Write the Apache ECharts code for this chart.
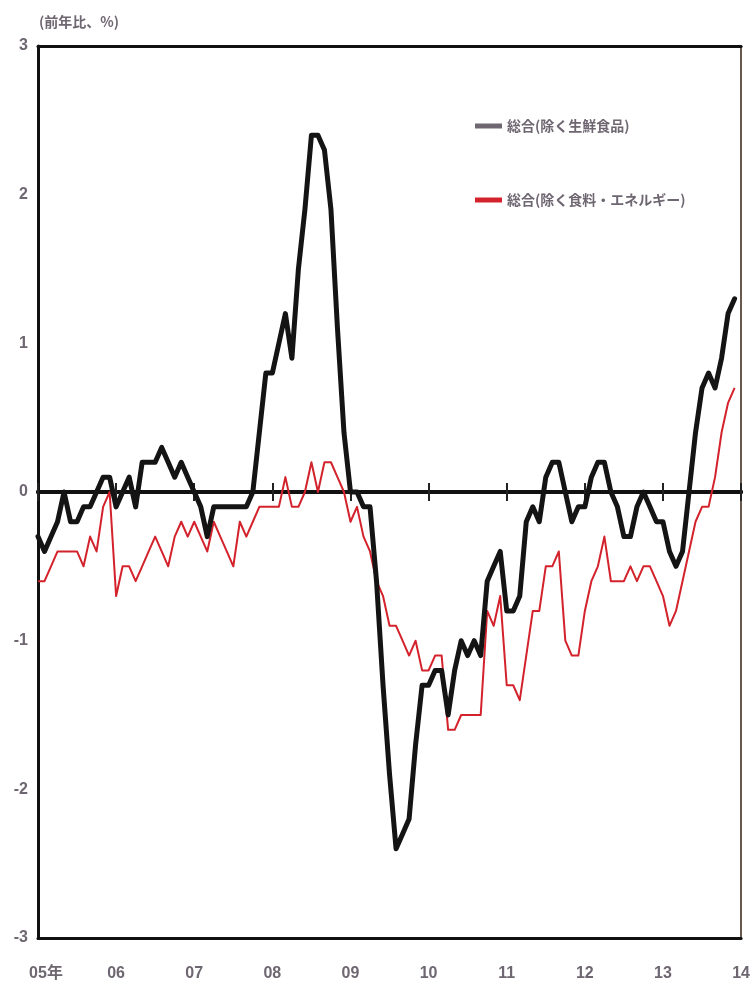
<!DOCTYPE html>
<html><head><meta charset="utf-8">
<script src="https://cdn.jsdelivr.net/npm/echarts@6/dist/echarts.min.js"></script>
<style>html,body{margin:0;padding:0;background:#fff}#c{width:753px;height:995px}</style>
</head><body><div id="c"></div>
<script>
// ---- data ----
const yearLabels = ['05年','06','07','08','09','10','11','12','13','14'];
const startYear = 2005;
const seriesNames = ['総合(除く生鮮食品)', '総合(除く食料・エネルギー)'];
const titleText = '(前年比、%)';
const yTicks = [-3, -2, -1, 0, 1, 2, 3];

// 総合(除く生鮮食品) monthly y/y %, Jan 2005 - Dec 2013
const coreExFresh = [
  -0.3, -0.4, -0.3, -0.2,  0.0, -0.2, -0.2, -0.1, -0.1,  0.0,  0.1,  0.1,
  -0.1,  0.0,  0.1, -0.1,  0.2,  0.2,  0.2,  0.3,  0.2,  0.1,  0.2,  0.1,
   0.0, -0.1, -0.3, -0.1, -0.1, -0.1, -0.1, -0.1, -0.1,  0.0,  0.4,  0.8,
   0.8,  1.0,  1.2,  0.9,  1.5,  1.9,  2.4,  2.4,  2.3,  1.9,  1.1,  0.4,
   0.0,  0.0, -0.1, -0.1, -0.6, -1.3, -1.9, -2.4, -2.3, -2.2, -1.7, -1.3,
  -1.3, -1.2, -1.2, -1.5, -1.2, -1.0, -1.1, -1.0, -1.1, -0.6, -0.5, -0.4,
  -0.8, -0.8, -0.7, -0.2, -0.1, -0.2,  0.1,  0.2,  0.2,  0.0, -0.2, -0.1,
  -0.1,  0.1,  0.2,  0.2,  0.0, -0.1, -0.3, -0.3, -0.1,  0.0, -0.1, -0.2,
  -0.2, -0.4, -0.5, -0.4,  0.0,  0.4,  0.7,  0.8,  0.7,  0.9,  1.2,  1.3
];
// 総合(除く食料・エネルギー) monthly y/y %, Jan 2005 - Dec 2013
const coreExFoodEnergy = [
  -0.6, -0.6, -0.5, -0.4, -0.4, -0.4, -0.4, -0.5, -0.3, -0.4, -0.1,  0.0,
  -0.7, -0.5, -0.5, -0.6, -0.5, -0.4, -0.3, -0.4, -0.5, -0.3, -0.2, -0.3,
  -0.2, -0.3, -0.4, -0.2, -0.3, -0.4, -0.5, -0.2, -0.3, -0.2, -0.1, -0.1,
  -0.1, -0.1,  0.1, -0.1, -0.1,  0.0,  0.2,  0.0,  0.2,  0.2,  0.1,  0.0,
  -0.2, -0.1, -0.3, -0.4, -0.6, -0.7, -0.9, -0.9, -1.0, -1.1, -1.0, -1.2,
  -1.2, -1.1, -1.1, -1.6, -1.6, -1.5, -1.5, -1.5, -1.5, -0.8, -0.9, -0.7,
  -1.3, -1.3, -1.4, -1.1, -0.8, -0.8, -0.5, -0.5, -0.4, -1.0, -1.1, -1.1,
  -0.8, -0.6, -0.5, -0.3, -0.6, -0.6, -0.6, -0.5, -0.6, -0.5, -0.5, -0.6,
  -0.7, -0.9, -0.8, -0.6, -0.4, -0.2, -0.1, -0.1,  0.1,  0.4,  0.6,  0.7
];

// ---- build categories (monthly, Jan 2005 .. Jan 2014) ----
const categories = [];
for (let y = 0; y < yearLabels.length; y++) {
  const months = (y === yearLabels.length - 1) ? 1 : 12;
  for (let m = 1; m <= months; m++) categories.push((startYear + y) + '/' + String(m).padStart(2, '0'));
}
const isJan = (i) => i % 12 === 0;
const grey = '#6e6671';
const numFont = '"Liberation Sans Narrow","Liberation Sans","Noto Sans CJK JP",sans-serif';
const jpFont = '"Noto Sans CJK JP","Noto Sans",sans-serif';

const chart = echarts.init(document.getElementById('c'), null, {renderer: 'canvas'});
chart.setOption({
  animation: false,
  backgroundColor: '#fff',
  title: {
    text: titleText, left: 34, top: 10,
    textStyle: {color: grey, fontSize: 14, fontWeight: 'bold', fontFamily: jpFont}
  },
  legend: {
    orient: 'vertical', left: 470, top: 114, itemGap: 60,
    itemWidth: 27, itemHeight: 5, icon: 'rect',
    textStyle: {color: grey, fontSize: 14, fontWeight: 'bold', fontFamily: jpFont},
    data: [
      {name: seriesNames[0], itemStyle: {color: grey}},
      {name: seriesNames[1]}
    ]
  },
  grid: {left: 38, right: 10, top: 46, bottom: 57, containLabel: false},
  xAxis: [
    { // bottom frame + labels
      type: 'category', data: categories, boundaryGap: false, position: 'bottom',
      axisLine: {onZero: false, lineStyle: {color: '#111', width: 3}},
      axisTick: {show: false},
      axisLabel: {
        interval: (i) => isJan(i),
        formatter: (v, i) => i === 0 ? '{first|' + yearLabels[0] + '}' : yearLabels[Math.floor(i / 12)],
        rich: {first: {color: grey, fontSize: 16, fontWeight: 'bold', fontFamily: numFont, padding: [0, 0, 0, 16]}},
        color: grey, fontSize: 16, fontWeight: 'bold', fontFamily: numFont, margin: 28
      },
      splitLine: {show: false}
    },
    { // top frame
      type: 'category', data: categories, boundaryGap: false, position: 'top',
      axisLine: {onZero: false, lineStyle: {color: '#111', width: 3}},
      axisTick: {show: false}, axisLabel: {show: false}, splitLine: {show: false}
    },
    { // zero line, ticks upward
      type: 'category', data: categories, boundaryGap: false, position: 'bottom',
      axisLine: {onZero: true, onZeroAxisIndex: 0, lineStyle: {color: '#111', width: 4}},
      axisTick: {show: true, inside: true, length: 9, interval: (i) => isJan(i), lineStyle: {color: '#222', width: 2}},
      axisLabel: {show: false}, splitLine: {show: false}
    },
    { // zero line, ticks downward
      type: 'category', data: categories, boundaryGap: false, position: 'bottom',
      axisLine: {onZero: true, onZeroAxisIndex: 0, lineStyle: {color: '#111', width: 4}},
      axisTick: {show: true, inside: false, length: 9, interval: (i) => isJan(i), lineStyle: {color: '#222', width: 2}},
      axisLabel: {show: false}, splitLine: {show: false}
    }
  ],
  yAxis: [
    {
      type: 'value', min: yTicks[0], max: yTicks[yTicks.length - 1], interval: 1, position: 'left',
      axisLine: {show: true, onZero: false, lineStyle: {color: '#111', width: 3}},
      axisTick: {show: false},
      splitLine: {show: false},
      axisLabel: {color: grey, fontSize: 16, fontWeight: 'bold', fontFamily: numFont, margin: 10}
    },
    {
      type: 'value', min: yTicks[0], max: yTicks[yTicks.length - 1], interval: 1, position: 'right',
      axisLine: {show: true, onZero: false, lineStyle: {color: '#6b5a4c', width: 2}},
      axisTick: {show: false}, axisLabel: {show: false}, splitLine: {show: false}
    }
  ],
  series: [
    {
      name: seriesNames[1], type: 'line', xAxisIndex: 0, yAxisIndex: 0,
      data: coreExFoodEnergy, symbol: 'none', z: 3,
      lineStyle: {color: '#d3222b', width: 2, join: 'round'},
      itemStyle: {color: '#d3222b'}
    },
    {
      name: seriesNames[0], type: 'line', xAxisIndex: 0, yAxisIndex: 0,
      data: coreExFresh, symbol: 'none', z: 4,
      lineStyle: {color: '#141414', width: 5, join: 'round', cap: 'round'},
      itemStyle: {color: '#141414'}
    }
  ]
});
</script>
</body></html>
